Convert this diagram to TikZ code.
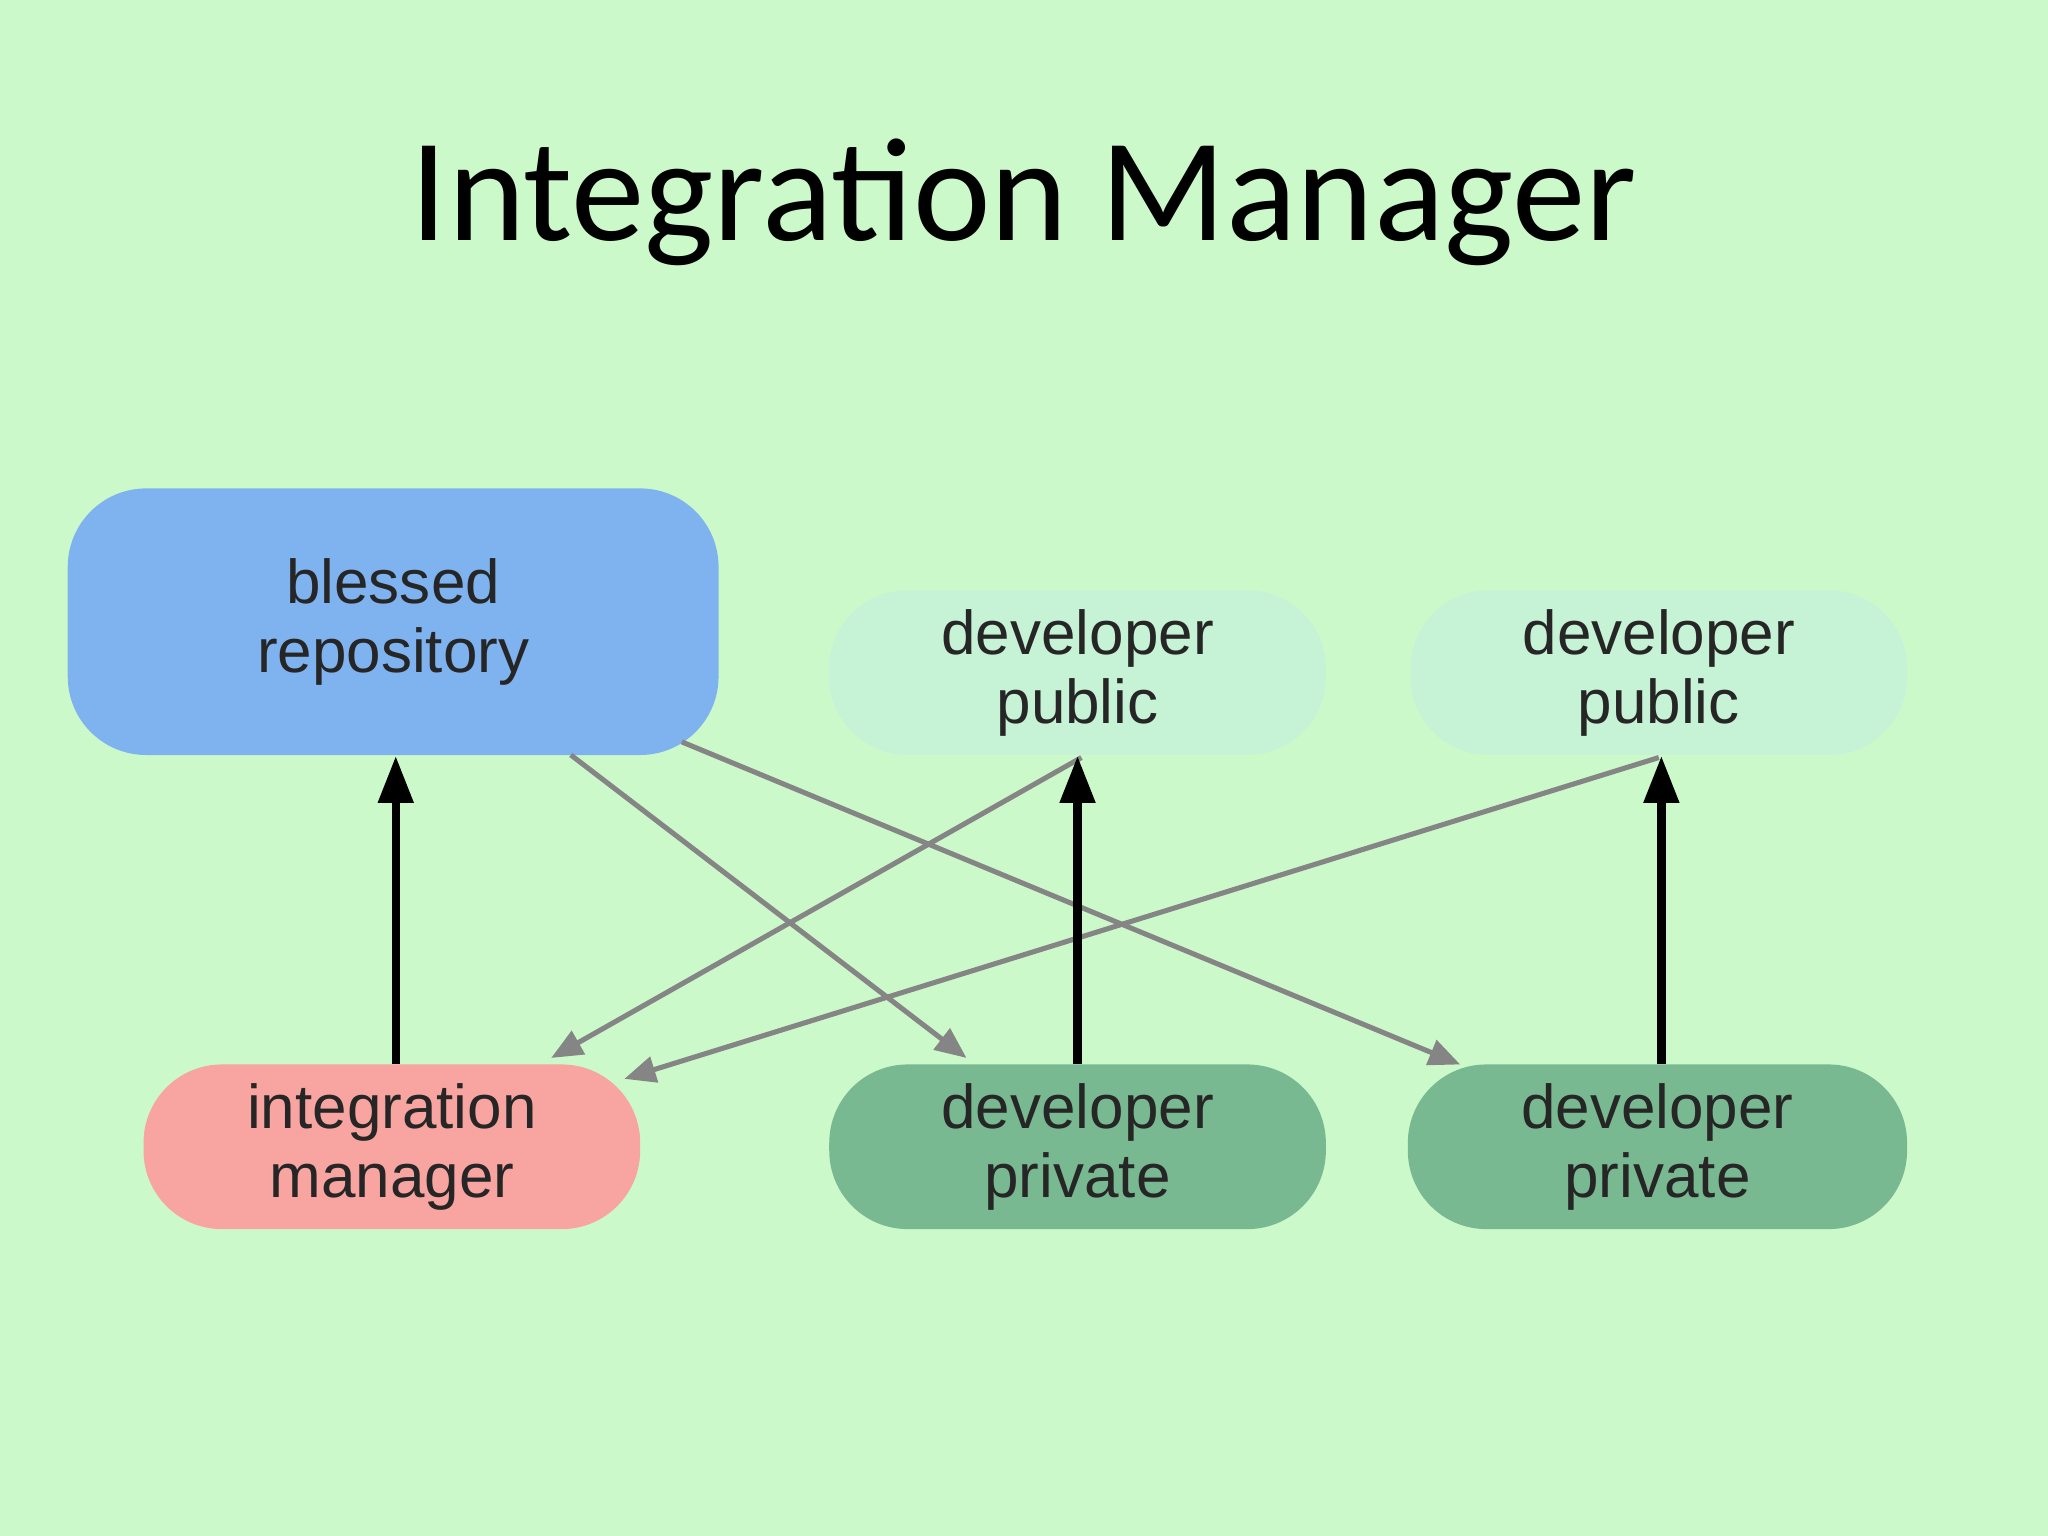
\documentclass[tikz,border=0pt]{standalone}
\usepackage{fontspec}
\setmainfont{Liberation Sans}
\newfontfamily\titlefont{Carlito}
\usetikzlibrary{arrows.meta}
\definecolor{bg}{HTML}{CCF9CA}
\definecolor{blessc}{HTML}{7FB3F0}
\definecolor{pubc}{HTML}{C6F2D6}
\definecolor{intc}{HTML}{F8A4A0}
\definecolor{privc}{HTML}{79B992}
\definecolor{arrgray}{HTML}{858585}
\begin{document}
\begin{tikzpicture}[x=0.01cm,y=-0.01cm,
  box/.style={rounded corners=0.6cm,inner sep=0pt,align=center,
    font=\fontsize{13.5}{15}\selectfont,text=black!85},
  blackarr/.style={line width=1.8pt,-{Triangle[length=0.36cm,width=0.26cm]}},
  grayline/.style={draw=arrgray,line width=1.1pt,-{Triangle[length=0.24cm,width=0.2cm,fill=arrgray]}}]
\fill[bg] (0,0) rectangle (1568,1176);
\useasboundingbox (0,0) rectangle (1568,1176);
\node (title) at (784,155) {\titlefont\fontsize{32}{38}\selectfont Integration Manager};
\node[box,fill=blessc,minimum width=4.98cm,minimum height=2.04cm] (bless) at (301,476) {blessed\\repository};
\node[box,fill=pubc,minimum width=3.8cm,minimum height=1.26cm] (pub1) at (825,515) {developer\\public};
\node[box,fill=pubc,minimum width=3.8cm,minimum height=1.26cm] (pub2) at (1270,515) {developer\\public};
\node[box,fill=intc,minimum width=3.8cm,minimum height=1.26cm] (int) at (300,878) {integration\\manager};
\node[box,fill=privc,minimum width=3.8cm,minimum height=1.26cm] (priv1) at (825,878) {developer\\private};
\node[box,fill=privc,minimum width=3.82cm,minimum height=1.26cm] (priv2) at (1269,878) {developer\\private};
\coordinate (b1) at (437,578);
\coordinate (b2) at (522,568);
\coordinate (p1) at (828,580);
\coordinate (p2) at (1270,580);
\coordinate (t1) at (740,810);
\coordinate (t2) at (1118,815);
\coordinate (t3) at (422,810);
\coordinate (t4) at (478,826);
\draw[grayline] (b1) -- (t1);
\draw[grayline] (b2) -- (t2);
\draw[grayline] (p1) -- (t3);
\draw[grayline] (p2) -- (t4);
\draw[blackarr] (int.north -| 303,0) -- (bless.south -| 303,0);
\draw[blackarr] (priv1.north) -- (pub1.south);
\draw[blackarr] (priv2.north -| 1272,0) -- (pub2.south -| 1272,0);
\end{tikzpicture}
\end{document}
